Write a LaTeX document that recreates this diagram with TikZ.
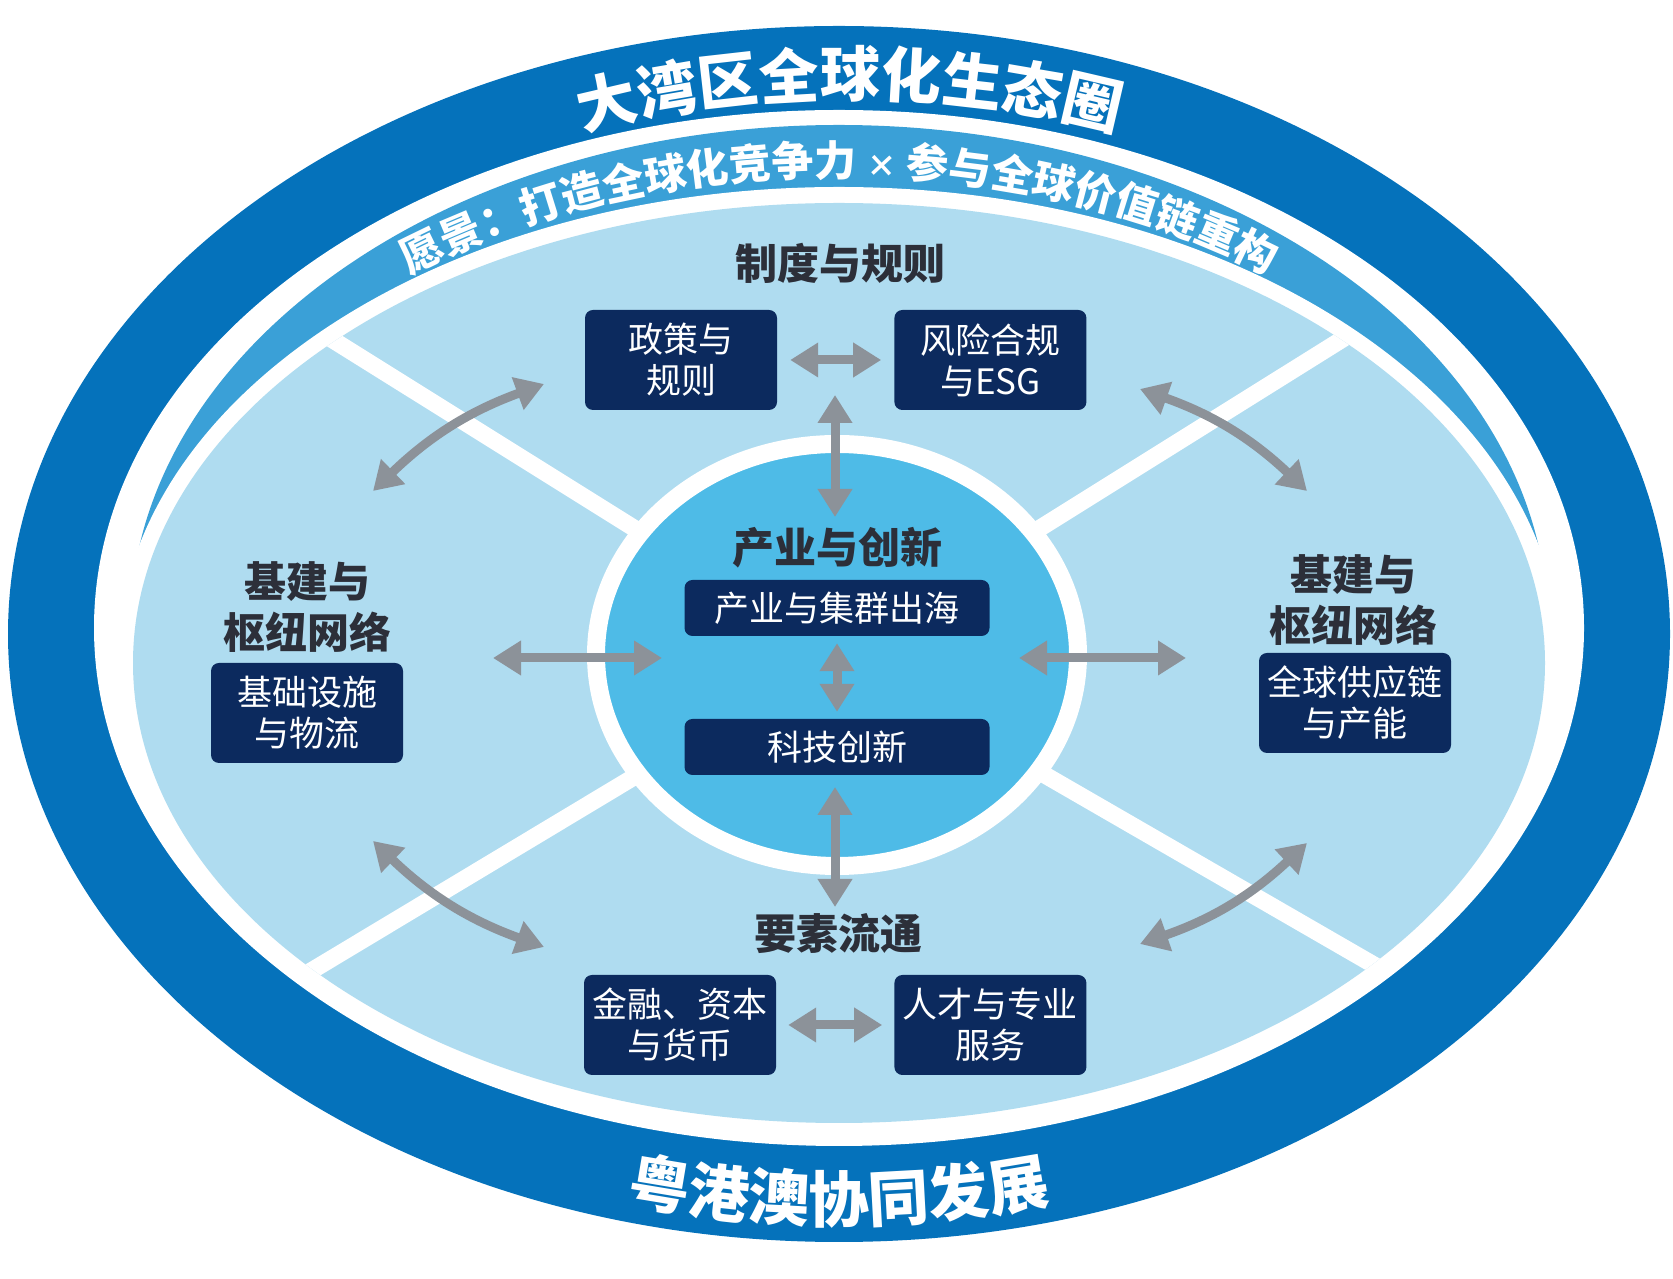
\documentclass[tikz,border=0pt]{standalone}
\usepackage{fontspec}
\setmainfont{Noto Sans CJK SC}
\usetikzlibrary{positioning, calc, arrows.meta, shapes.geometric, decorations.text}
\definecolor{ringblau}{RGB}{5,114,187}
\definecolor{bandblau}{RGB}{58,160,215}
\definecolor{hellblau}{RGB}{175,220,240}
\definecolor{kernblau}{RGB}{78,187,231}
\definecolor{marine}{RGB}{12,42,94}
\definecolor{pfeilgrau}{RGB}{140,146,153}
\definecolor{schrift}{RGB}{44,47,57}
\newcommand{\bogenschrift}[1]{\color{white}\bfseries\fontsize{#1}{#1}\selectfont}
\tikzset{kasten/.style={fill=marine, text=white, rounded corners=8pt, align=center,
		minimum width=192pt, minimum height=100pt, inner sep=0pt,
		font=\fontsize{35}{41}\selectfont},
	balken/.style={kasten, minimum width=305pt, minimum height=56pt},
	titel/.style={text=schrift, align=center, font=\bfseries\fontsize{42}{51}\selectfont},
	pfeil/.style={draw=pfeilgrau, line width=9pt,
		{Triangle[width=33pt,length=28pt]}-{Triangle[width=33pt,length=28pt]}},
	trenner/.style={draw=white, line width=17pt} }

\begin{document}
\begin{tikzpicture}[x=1pt, y=1pt]
	\useasboundingbox (0,0) rectangle (1673,1279);

	% ring, band and inner field
	\fill[ringblau] (839,645) ellipse [x radius=831, y radius=608];
	\fill[white] (839,651) ellipse [x radius=745, y radius=518];
	\fill[bandblau] (839,651) ellipse [x radius=709, y radius=503];
	\fill[white] (839,616) ellipse [x radius=722, y radius=476];
	\fill[hellblau] (839,616) ellipse [x radius=706, y radius=460];

	\begin{scope}
		\clip (839,616) ellipse [x radius=706, y radius=460];
		\foreach \w in {32,148,211,330}
			\draw[trenner] (837,624) -- ++(\w:900);
	\end{scope}

	\node (kern) [ellipse, fill=kernblau, draw=white, line width=18pt,
		minimum width=482pt, minimum height=422pt] at (837,624) {};

	\path[decorate, decoration={text along path, text align=center,
			text={|\bogenschrift{60}|大湾区全球化生态圈}}]
		($(850,645)+(165:760 and 537)$) arc[start angle=165, end angle=15, x radius=760, y radius=537];
	\path[decorate, decoration={text along path, text align=center,
			text={|\bogenschrift{42}|愿景：打造全球化竞争力 |\bogenschrift{30}|×|\bogenschrift{42}| 参与全球价值链重构}}]
		($(839,633)+(175:700 and 470)$) arc[start angle=175, end angle=5, x radius=700, y radius=470];
	\path[decorate, decoration={text along path, text align=center,
			text={|\bogenschrift{61}|粤港澳协同发展}}]
		($(839,645)+(200:813 and 588)$) arc[start angle=200, end angle=340, x radius=813, y radius=588];

	\node (ordnung) [titel] at (840,1016) {制度与规则};
	\node (politik) [kasten] at (681,919) {政策与\\规则};
	\node (risiko) [kasten, right=117pt of politik] {风险合规\\与ESG};

	\node (kerntitel) [titel] at (837,731) {产业与创新};
	\node (cluster) [balken] at (837,671) {产业与集群出海};
	\node (technik) [balken] at (837,532) {科技创新};

	\node (westtitel) [titel] at (307,672) {基建与\\枢纽网络};
	\node (infra) [kasten] at (307,566) {基础设施\\与物流};
	\node (osttitel) [titel] at (1353,679) {基建与\\枢纽网络};
	\node (lieferkette) [kasten] at (1355,576) {全球供应链\\与产能};

	\node (faktor) [titel] at (838,345) {要素流通};
	\node (finanz) [kasten] at (680,254) {金融、资本\\与货币};
	\node (talent) [kasten, right=118pt of finanz] {人才与专业\\服务};

	\coordinate (nord) at (835,884);   \coordinate (kern-n) at (835,762);
	\coordinate (sued) at (835,372);   \coordinate (kern-s) at (835,492);
	\coordinate (west) at (493,621);   \coordinate (kern-w) at (662,621);
	\coordinate (ost) at (1186,621);   \coordinate (kern-o) at (1019,621);
	\coordinate (nw1) at (373,788);    \coordinate (nw2) at (544,895);
	\coordinate (no1) at (1140,890);   \coordinate (no2) at (1307,788);
	\coordinate (sw1) at (373,438);    \coordinate (sw2) at (544,332);
	\coordinate (so1) at (1140,335);   \coordinate (so2) at (1307,436);

	\draw[pfeil, shorten <=13pt, shorten >=13pt] (politik) -- (risiko);
	\draw[pfeil, shorten <=12pt, shorten >=12pt] (finanz) -- (talent);
	\draw[pfeil, shorten <=7pt, shorten >=7pt] (cluster) -- (technik);
	\draw[pfeil] (nord) -- (kern-n);
	\draw[pfeil] (sued) -- (kern-s);
	\draw[pfeil] (west) -- (kern-w);
	\draw[pfeil] (ost) -- (kern-o);
	\draw[pfeil] (nw1) to[bend left=12] (nw2);
	\draw[pfeil] (no1) to[bend left=12] (no2);
	\draw[pfeil] (sw1) to[bend right=12] (sw2);
	\draw[pfeil] (so1) to[bend right=12] (so2);
\end{tikzpicture}
\end{document}
